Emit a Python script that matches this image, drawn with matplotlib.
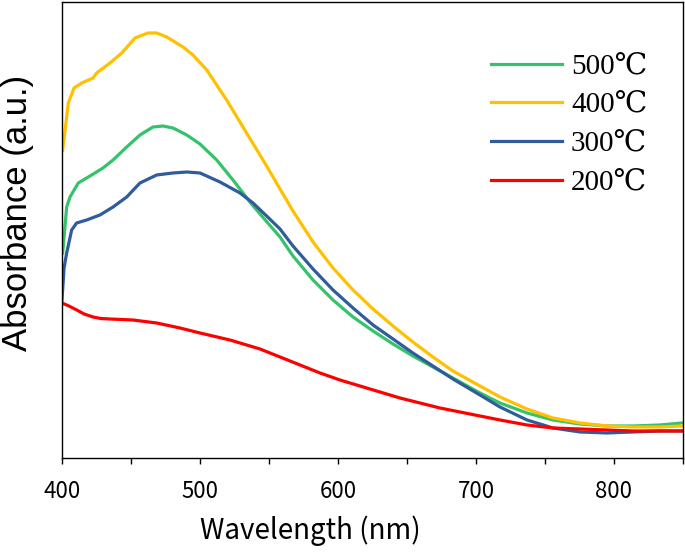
import matplotlib
matplotlib.use("Agg")
import matplotlib.pyplot as plt
from matplotlib.ticker import MultipleLocator

# wavelength (nm) / absorbance (a.u.)
wl_500 = [400.5, 403.4, 405.8, 411.8, 421.5, 429.7, 437.0, 446.9, 456.5, 465.9, 473.2, 480.4,
          490.4, 500.0, 512.1, 523.9, 536.2, 543.5, 558.0, 567.4, 581.9, 596.4, 610.9, 625.4,
          639.9, 654.3, 668.8, 683.3, 702.9, 717.4, 737.0, 755.8, 775.4, 794.9, 813.8, 833.3, 849.3]
ab_500 = [2.05, 2.51, 2.61, 2.75, 2.83, 2.90, 2.98, 3.11, 3.23, 3.31, 3.32, 3.30,
          3.23, 3.14, 2.98, 2.78, 2.56, 2.44, 2.21, 2.02, 1.78, 1.58, 1.41, 1.27,
          1.14, 1.02, 0.91, 0.80, 0.65, 0.55, 0.45, 0.38, 0.34, 0.32, 0.32, 0.33, 0.35]

wl_400 = [400.5, 404.6, 408.7, 414.3, 422.5, 425.1, 434.8, 443.3, 452.9, 462.3, 468.6, 475.9,
          487.7, 494.9, 504.9, 519.3, 533.8, 548.3, 558.0, 567.4, 581.9, 596.4, 610.9, 625.4,
          639.9, 654.3, 668.8, 683.3, 702.9, 717.4, 737.0, 755.8, 775.4, 794.9, 813.8, 833.3, 849.3]
ab_400 = [3.08, 3.55, 3.70, 3.75, 3.80, 3.85, 3.95, 4.05, 4.20, 4.25, 4.25, 4.21,
          4.11, 4.03, 3.88, 3.58, 3.25, 2.92, 2.69, 2.47, 2.16, 1.90, 1.68, 1.49,
          1.32, 1.16, 1.01, 0.87, 0.72, 0.61, 0.49, 0.40, 0.35, 0.32, 0.31, 0.31, 0.32]

wl_300 = [400.0, 401.5, 403.4, 407.0, 410.6, 417.9, 427.5, 437.0, 446.9, 456.5, 468.6, 480.4,
          490.4, 500.0, 514.5, 529.0, 538.4, 548.3, 558.0, 567.4, 581.9, 596.4, 610.9, 625.4,
          639.9, 654.3, 668.8, 683.3, 702.9, 717.4, 737.0, 755.8, 775.4, 794.9, 813.8, 833.3, 849.3]
ab_300 = [1.58, 1.90, 2.05, 2.28, 2.35, 2.38, 2.43, 2.51, 2.61, 2.75, 2.83, 2.85,
          2.86, 2.85, 2.76, 2.65, 2.55, 2.42, 2.29, 2.12, 1.89, 1.68, 1.50, 1.33,
          1.19, 1.05, 0.92, 0.79, 0.63, 0.51, 0.38, 0.30, 0.26, 0.25, 0.26, 0.27, 0.27]

wl_200 = [400.0, 405.0, 410.7, 416.0, 422.5, 428.0, 434.8, 451.4, 468.6, 485.5, 500.0, 521.7,
          543.5, 558.0, 572.5, 587.0, 601.4, 615.9, 630.4, 644.9, 659.4, 673.9, 688.4, 702.9,
          717.4, 737.0, 755.8, 775.4, 794.9, 813.8, 833.3, 849.3]
ab_200 = [1.55, 1.52, 1.48, 1.44, 1.41, 1.395, 1.39, 1.38, 1.35, 1.30, 1.25, 1.18,
          1.09, 1.01, 0.93, 0.85, 0.78, 0.72, 0.66, 0.60, 0.55, 0.50, 0.46, 0.42,
          0.38, 0.33, 0.30, 0.29, 0.28, 0.27, 0.27, 0.27]

labels = ["500\u2103", "400\u2103", "300\u2103", "200\u2103"]
colors = ["#35C26B", "#FFC000", "#2F5C9A", "#FF0000"]

fig = plt.figure(figsize=(6.85, 5.55), dpi=100)
ax = fig.add_axes([0.0905, 0.1748, 0.9065, 0.8216])

for x, y, lab, c in zip([wl_500, wl_400, wl_300, wl_200],
                        [ab_500, ab_400, ab_300, ab_200], labels, colors):
    ax.plot(x, y, color=c, lw=2.3, label=lab)

ax.set_xlim(400, 850)
ax.set_ylim(0, 4.56)
ax.xaxis.set_major_locator(MultipleLocator(100))
ax.xaxis.set_minor_locator(MultipleLocator(50))
ax.set_yticks([])
ax.tick_params(axis='x', which='both', direction='out', length=4, width=1.0,
               top=False, pad=12, labelsize=16)
for s in ax.spines.values():
    s.set_linewidth(1.0)
for t in ax.get_xticklabels():
    t.set_family('Noto Sans CJK JP')

ax.set_xlabel("Wavelength (nm)", fontsize=20, family='Noto Sans CJK JP')
ax.xaxis.set_label_coords(0.40, -0.16)
ax.xaxis.label.set_va('center')
ax.set_ylabel("Absorbance (a.u.)", fontsize=25, family='Liberation Sans')
ax.yaxis.set_label_coords(-0.071, 0.537)
ax.yaxis.label.set_va('center')

ax.legend(loc='upper right', frameon=False, handlelength=2.45, handletextpad=0.3,
          labelspacing=0.42, borderaxespad=0.4, bbox_to_anchor=(0.98, 0.938),
          prop={'family': ['Liberation Serif', 'DejaVu Serif'], 'size': 21})

fig.savefig("out.png", dpi=100)
